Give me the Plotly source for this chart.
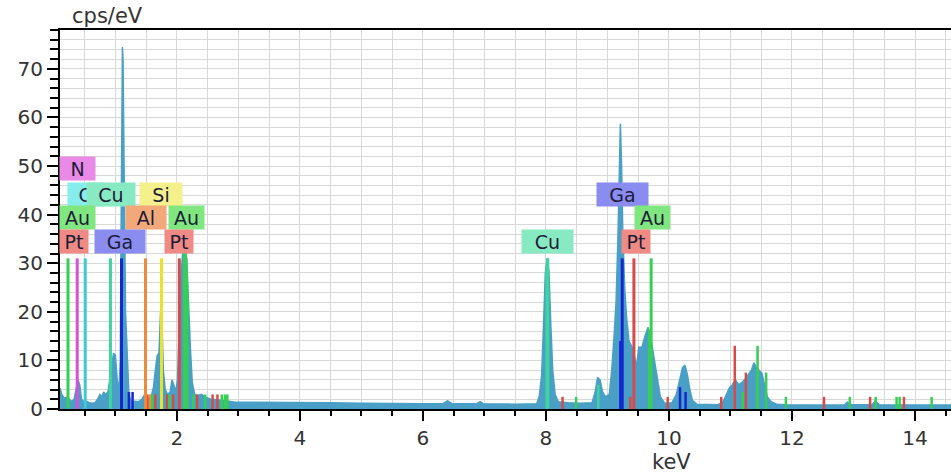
import plotly.graph_objects as go

# ---- spectrum (energy in keV, intensity in cps/eV) ----
energy_kev = [
    0.10, 0.13, 0.17, 0.21, 0.25, 0.29, 0.33, 0.36, 0.39, 0.42, 0.45, 0.49, 0.53, 0.57,
    0.62, 0.67, 0.71, 0.75, 0.78, 0.81, 0.84, 0.88, 0.91, 0.94, 0.97, 1.00, 1.03, 1.06,
    1.08, 1.095, 1.105, 1.115, 1.125, 1.135, 1.145, 1.155, 1.165, 1.18, 1.20, 1.22, 1.26,
    1.32, 1.38, 1.43, 1.47, 1.51, 1.55, 1.59, 1.62, 1.65, 1.68, 1.71, 1.735, 1.755, 1.78,
    1.81, 1.85, 1.89, 1.92, 1.95, 1.98, 2.01, 2.04, 2.07, 2.10, 2.13, 2.16, 2.19, 2.22,
    2.25, 2.29, 2.34, 2.40, 2.46, 2.55, 2.65, 2.75, 2.85, 2.95, 3.50, 4.00, 4.50, 5.00,
    5.50, 6.00, 6.33, 6.40, 6.47, 6.88, 6.93, 6.98, 7.50, 7.85, 7.89, 7.93, 7.96, 7.99,
    8.02, 8.05, 8.08, 8.11, 8.15, 8.20, 8.35, 8.55, 8.75, 8.80, 8.84, 8.88, 8.92, 8.97,
    9.03, 9.07, 9.11, 9.14, 9.17, 9.19, 9.21, 9.23, 9.25, 9.28, 9.31, 9.35, 9.39, 9.43,
    9.47, 9.51, 9.56, 9.61, 9.66, 9.70, 9.74, 9.79, 9.86, 9.93, 10.05, 10.12, 10.17,
    10.22, 10.26, 10.30, 10.34, 10.38, 10.45, 10.80, 10.88, 10.93, 10.98, 11.03, 11.08,
    11.13, 11.18, 11.23, 11.28, 11.34, 11.38, 11.42, 11.46, 11.51, 11.55, 11.60, 11.66,
    11.75, 11.90, 12.20, 12.85, 12.90, 12.96, 13.30, 13.35, 13.42, 14.60,
]
counts_cps_ev = [
    4.3, 3.0, 2.2, 2.4, 2.0, 1.6, 2.0, 4.5, 6.0, 5.0, 2.0, 1.5, 1.6, 1.3,
    1.2, 1.3, 2.0, 3.0, 2.5, 3.5, 3.0, 3.5, 6.0, 8.0, 11.5, 11.0, 6.0, 4.0,
    10.0, 40.0, 70.0, 74.5, 72.0, 55.0, 47.0, 30.0, 20.0, 15.5, 8.0, 3.0, 1.5,
    1.6, 1.5, 2.0, 2.8, 2.5, 2.2, 3.0, 4.5, 8.0, 11.0, 11.5, 20.0, 19.0, 8.0,
    4.0, 3.0, 3.5, 6.0, 5.0, 3.5, 6.0, 18.0, 28.0, 33.0, 33.0, 31.0, 20.0, 12.5,
    5.5, 3.0, 2.8, 3.0, 2.5, 2.0, 1.9, 1.8, 1.6, 1.4, 1.4, 1.3, 1.3, 1.2,
    1.1, 1.1, 1.1, 1.7, 1.1, 1.1, 1.5, 1.1, 1.0, 1.1, 2.5, 7.0, 17.0, 28.0,
    31.0, 28.0, 17.0, 8.0, 3.0, 1.5, 1.3, 1.2, 1.3, 3.5, 6.5, 6.0, 3.5, 2.5,
    3.0, 8.0, 15.5, 22.0, 35.0, 52.0, 58.7, 50.0, 36.0, 25.0, 19.0, 14.0, 13.0, 11.5,
    8.6, 12.7, 12.7, 15.0, 16.8, 15.0, 12.0, 7.4, 2.5, 1.2, 1.3, 3.0, 6.0,
    8.5, 9.0, 7.0, 4.0, 1.8, 1.0, 0.9, 1.5, 3.0, 4.3, 5.0, 6.0,
    5.0, 5.4, 6.0, 7.0, 8.0, 9.5, 8.6, 8.0, 7.4, 5.4, 2.5, 1.5,
    1.0, 0.9, 0.8, 0.8, 1.4, 0.9, 0.9, 1.6, 0.9, 0.8,
]

# ---- principal element lines (markers drawn up to the label area) ----
line_elements = ["Au", "N", "O", "Cu", "Ga", "Al", "Si", "Pt", "Au", "Cu", "Ga", "Pt", "Au"]
line_energies = [0.23, 0.38, 0.51, 0.92, 1.10, 1.49, 1.75, 2.04, 2.13, 8.03, 9.24, 9.43, 9.71]
line_heights = [31, 31, 31, 31, 31, 31, 31, 31, 31, 31, 31, 31, 31]

# ---- secondary lines (short markers) ----
minor_elements = [
    "Ga", "Ga", "Pt", "Al", "Au", "Pt", "Pt", "Au", "Pt", "Au", "Pt", "Au", "Pt", "Pt",
    "Au", "Au", "Au", "Cu", "Pt", "Au", "Ga", "Pt", "Pt", "Ga", "Ga", "Pt", "Pt", "Au",
    "Pt", "Au", "Au", "Au", "Pt", "Au", "Pt", "Au", "Au", "Au", "Pt", "Au",
]
minor_energies = [
    1.22, 1.28, 1.52, 1.56, 1.60, 1.65, 1.84, 1.88, 1.94, 2.27, 2.33, 2.46, 2.58, 2.66,
    2.73, 2.78, 2.82, 8.85, 8.27, 8.49, 9.21, 9.37, 9.98, 10.18, 10.27, 10.85, 11.07, 11.20,
    11.25, 11.44, 11.58, 11.90, 12.52, 12.94, 13.27, 13.36, 13.70, 13.75, 13.82, 14.27,
]
minor_heights = [
    3.5, 3.5, 3.0, 3.0, 3.0, 3.0, 3.0, 3.0, 3.0, 3.0, 3.0, 3.0, 3.0, 3.0,
    3.0, 3.0, 3.0, 5.0, 2.5, 2.5, 14.0, 2.5, 2.5, 4.5, 3.5, 2.5, 13.0, 3.5,
    7.5, 13.0, 7.5, 2.5, 2.5, 2.5, 2.5, 2.5, 2.5, 2.5, 2.5, 2.5,
]

# ---- element labels ----
label_text = ["N", "O", "Cu", "Si", "Au", "Al", "Au", "Pt", "Ga", "Pt", "Cu", "Ga", "Au", "Pt"]
label_energy = [0.39, 0.53, 0.93, 1.75, 0.39, 1.49, 2.16, 0.33, 1.08, 2.04, 8.03, 9.25, 9.73, 9.46]
label_row = [1, 2, 2, 2, 3, 3, 3, 4, 4, 4, 4, 2, 3, 4]

# ---- styling ----
SPEC_COLOR = "#4a9fc6"
line_colors = {
    "Au": "#35cf55", "N": "#d452d4", "O": "#3ec9d3", "Cu": "#3fd39d",
    "Ga": "#1428d0", "Al": "#ee8b3a", "Si": "#e8e22c", "Pt": "#d84a4a",
}
box_colors = {
    "Au": "#80e680", "N": "#e88ae6", "O": "#86ecec", "Cu": "#88eac2",
    "Ga": "#8a8cf0", "Al": "#f2a878", "Si": "#f4f08c", "Pt": "#f08a84",
}
box_widths = {
    ("N", 1): 35, ("O", 2): 36, ("Cu", 2): 48, ("Si", 2): 42, ("Au", 3): 35,
    ("Al", 3): 40, ("Pt", 4): 28, ("Ga", 4): 50, ("Ga", 2): 51, ("Cu", 4): 51,
}
row_center = {1: 49.5, 2: 44.2, 3: 39.4, 4: 34.5}
FONT = "DejaVu Sans"

fig = go.Figure()

# spectrum fill
fig.add_trace(go.Scatter(
    x=energy_kev, y=counts_cps_ev, mode="lines", fill="tozeroy",
    line=dict(color=SPEC_COLOR, width=1.5), fillcolor=SPEC_COLOR,
    hoverinfo="skip", showlegend=False,
))

# coloured portions of the Au peaks and Cu K-alpha peak
overlay_ranges = [("Au", 2.09, 2.20), ("Cu", 7.99, 8.05), ("Au", 9.64, 9.71), ("Au", 11.40, 11.46)]
for el, e0, e1 in overlay_ranges:
    xs = [e for e in energy_kev if e0 <= e <= e1]
    ys = [c for e, c in zip(energy_kev, counts_cps_ev) if e0 <= e <= e1]
    fig.add_trace(go.Scatter(
        x=xs, y=ys, mode="lines", fill="tozeroy",
        line=dict(color=line_colors[el], width=1), fillcolor=line_colors[el],
        hoverinfo="skip", showlegend=False,
    ))


def add_markers(elements, energies, heights, width):
    for el in dict.fromkeys(elements):
        xs, ys = [], []
        for e_el, e, h in zip(elements, energies, heights):
            if e_el == el:
                xs += [e, e, None]
                ys += [0, h, None]
        fig.add_trace(go.Scatter(
            x=xs, y=ys, mode="lines", line=dict(color=line_colors[el], width=width),
            hoverinfo="skip", showlegend=False,
        ))


add_markers(minor_elements, minor_energies, minor_heights, 2.5)
add_markers(line_elements, line_energies, line_heights, 3)

# element label boxes
for txt, e, row in zip(label_text, label_energy, label_row):
    w = box_widths.get((txt, row), 48 if txt in ("Au", "Cu", "Ga") else 42)
    fig.add_annotation(
        x=e, y=row_center[row], xref="x", yref="y", text=txt, showarrow=False,
        bgcolor=box_colors[txt], width=w - 6, height=17, borderpad=3,
        font=dict(family=FONT, size=19, color="#1c1c38"), align="center",
    )

# axis titles (placed in pixels, converted to paper coordinates below)
fig.add_annotation(x=107, y=16, xref="paper", yref="paper", text="cps/eV", showarrow=False,
                   font=dict(family=FONT, size=21, color="#333333"))
fig.add_annotation(x=671, y=462, xref="paper", yref="paper", text="keV", showarrow=False,
                   font=dict(family=FONT, size=21, color="#333333"))

W, H = 951, 474
L, R, T, B = 60, 0, 30, 65
for ann in fig.layout.annotations[-2:]:
    ann.x = (ann.x - L) / (W - L - R)
    ann.y = 1 - (ann.y - T) / (H - T - B)
    ann.xanchor = "center"
    ann.yanchor = "middle"

GRID = "#d8d8d8"
fig.update_layout(
    width=W, height=H, margin=dict(l=L, r=R, t=T, b=B),
    paper_bgcolor="white", plot_bgcolor="white",
    font=dict(family=FONT, color="#333333"),
    xaxis=dict(
        range=[0.1, 14.585], dtick=2, tick0=0, showgrid=True, gridcolor=GRID, gridwidth=1,
        zeroline=False, showline=True, linecolor="black", linewidth=2, mirror=True,
        ticks="outside", ticklen=10, tickwidth=2, tickcolor="black",
        tickfont=dict(family=FONT, size=20, color="#333333"),
        minor=dict(dtick=0.5, tick0=0, ticks="outside", ticklen=5, tickwidth=1.5,
                   tickcolor="black", showgrid=True, gridcolor=GRID, gridwidth=1),
    ),
    yaxis=dict(
        range=[0, 78], dtick=10, tick0=0, showgrid=True, gridcolor=GRID, gridwidth=1,
        zeroline=False, showline=True, linecolor="black", linewidth=2,
        ticks="outside", ticklen=11, tickwidth=2, tickcolor="black",
        tickfont=dict(family=FONT, size=20, color="#333333"),
        minor=dict(dtick=2, tick0=0, ticks="outside", ticklen=8, tickwidth=1.5,
                   tickcolor="black", showgrid=True, gridcolor=GRID, gridwidth=1),
    ),
)

fig.write_html("out.html")
